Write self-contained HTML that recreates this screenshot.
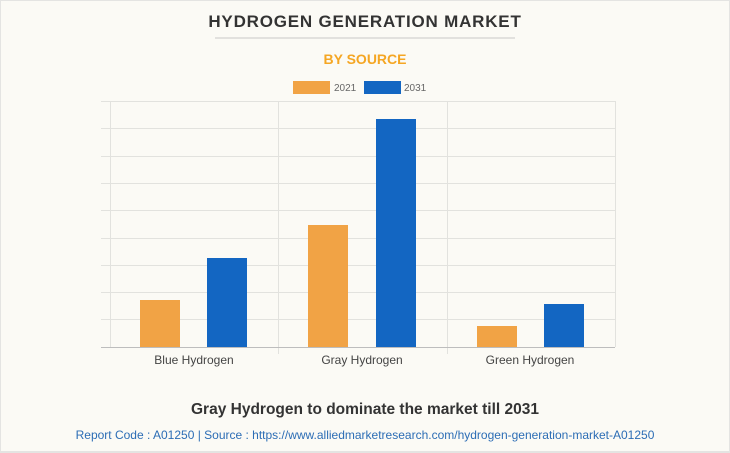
<!DOCTYPE html>
<html><head><style>
body{margin:0;width:730px;height:453px;overflow:hidden;background:#fff;}
svg{display:block}
</style></head><body>
<svg width="730" height="453" xmlns="http://www.w3.org/2000/svg" font-family="Liberation Sans, Arial, sans-serif">
<rect x="0" y="0" width="730" height="453" fill="#e4e4e2"/>
<rect x="1" y="1" width="728" height="450" fill="#fbfaf5"/>
<text x="365" y="27" text-anchor="middle" font-size="17" font-weight="bold" fill="#333" letter-spacing="0.8">HYDROGEN GENERATION MARKET</text>
<line x1="215" y1="38" x2="515" y2="38" stroke="#c8c8c8" stroke-width="1"/>
<text x="365" y="64" text-anchor="middle" font-size="14" font-weight="bold" fill="#f5a623">BY SOURCE</text>
<rect x="293" y="81" width="37" height="13" fill="#f1a345"/>
<text x="334" y="91" font-size="10" fill="#666">2021</text>
<rect x="364" y="81" width="37" height="13" fill="#1366c2"/>
<text x="404" y="91" font-size="10" fill="#666">2031</text>
<g stroke="#e2e2de" stroke-width="1">
<line x1="101" y1="101.5" x2="615" y2="101.5"/>
<line x1="101" y1="128.5" x2="615" y2="128.5"/>
<line x1="101" y1="156.5" x2="615" y2="156.5"/>
<line x1="101" y1="183.5" x2="615" y2="183.5"/>
<line x1="101" y1="210.5" x2="615" y2="210.5"/>
<line x1="101" y1="238.5" x2="615" y2="238.5"/>
<line x1="101" y1="265.5" x2="615" y2="265.5"/>
<line x1="101" y1="292.5" x2="615" y2="292.5"/>
<line x1="101" y1="319.5" x2="615" y2="319.5"/>
<line x1="110.5" y1="101" x2="110.5" y2="347"/>
<line x1="278.5" y1="101" x2="278.5" y2="354"/>
<line x1="447.5" y1="101" x2="447.5" y2="354"/>
<line x1="615.5" y1="101" x2="615.5" y2="347"/>
</g>
<rect x="140" y="300" width="40" height="47" fill="#f1a345"/>
<rect x="207" y="258" width="40" height="89" fill="#1366c2"/>
<rect x="308" y="225" width="40" height="122" fill="#f1a345"/>
<rect x="376" y="119" width="40" height="228" fill="#1366c2"/>
<rect x="477" y="326" width="40" height="21" fill="#f1a345"/>
<rect x="544" y="304" width="40" height="43" fill="#1366c2"/>
<line x1="101" y1="347.5" x2="615" y2="347.5" stroke="#bdbdbd" stroke-width="1"/>
<g font-size="12" fill="#444" text-anchor="middle">
<text x="194" y="364">Blue Hydrogen</text>
<text x="362" y="364">Gray Hydrogen</text>
<text x="530" y="364">Green Hydrogen</text>
</g>
<text x="365" y="414" text-anchor="middle" font-size="15.5" font-weight="bold" fill="#333">Gray Hydrogen to dominate the market till 2031</text>
<text x="365" y="439" text-anchor="middle" font-size="12" fill="#2c6db5">Report Code : A01250  |  Source : https://www.alliedmarketresearch.com/hydrogen-generation-market-A01250</text>
</svg>
</body></html>
